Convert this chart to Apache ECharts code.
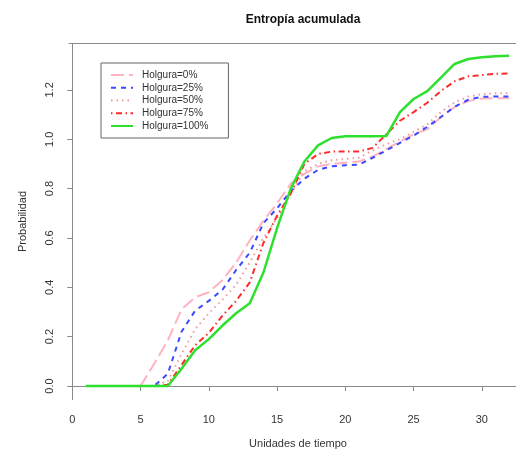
<!DOCTYPE html>
<html>
<head>
<meta charset="utf-8">
<script src="https://cdn.jsdelivr.net/npm/echarts@6/dist/echarts.min.js"></script>
<style>
  html, body { margin: 0; padding: 0; background: #fff; }
  #chart { width: 516px; height: 451px; }
</style>
</head>
<body>
<div id="chart"></div>
<script>
// unidades de tiempo
const tiempo = [1, 2, 3, 4, 5, 6, 7, 8, 9, 10, 11, 12, 13, 14, 15, 16,
  17, 18, 19, 20, 21, 22, 23, 24, 25, 26, 27, 28, 29, 30, 31, 32];

// entropía acumulada por holgura
const holgura0 = [0, 0, 0, 0, 0, 0.09, 0.185, 0.31, 0.36, 0.38, 0.43, 0.5, 0.59, 0.67, 0.74, 0.82,
  0.86, 0.89, 0.9, 0.905, 0.91, 0.93, 0.96, 0.99, 1.02, 1.04, 1.09, 1.13, 1.155, 1.165, 1.166, 1.166];
const holgura25 = [0, 0, 0, 0, 0, 0, 0.05, 0.22, 0.305, 0.345, 0.39, 0.47, 0.54, 0.66, 0.72, 0.79,
  0.84, 0.876, 0.89, 0.895, 0.897, 0.925, 0.955, 0.985, 1.015, 1.05, 1.09, 1.132, 1.16, 1.172, 1.173, 1.173];
const holgura50 = [0, 0, 0, 0, 0, 0, 0.02, 0.13, 0.23, 0.295, 0.35, 0.41, 0.5, 0.6, 0.68, 0.78,
  0.87, 0.9, 0.915, 0.92, 0.925, 0.955, 0.98, 1.0, 1.03, 1.06, 1.11, 1.15, 1.173, 1.183, 1.186, 1.187];
const holgura75 = [0, 0, 0, 0, 0, 0, 0.005, 0.085, 0.165, 0.215, 0.285, 0.345, 0.42, 0.58, 0.69, 0.78,
  0.9, 0.94, 0.95, 0.95, 0.95, 0.965, 1.02, 1.075, 1.11, 1.148, 1.195, 1.235, 1.255, 1.26, 1.265, 1.267];
const holgura100 = [0, 0, 0, 0, 0, 0, 0, 0.07, 0.145, 0.19, 0.245, 0.295, 0.335, 0.46, 0.64, 0.8,
  0.91, 0.975, 1.005, 1.012, 1.012, 1.012, 1.013, 1.11, 1.163, 1.195, 1.25, 1.305, 1.325, 1.332, 1.336, 1.338];

const nombres = ['Holgura=0%', 'Holgura=25%', 'Holgura=50%', 'Holgura=75%', 'Holgura=100%'];
const xTicks = [0, 5, 10, 15, 20, 25, 30];
const yTicks = [0, 0.2, 0.4, 0.6, 0.8, 1.0, 1.2];

const pares = (ys) => tiempo.map((t, i) => [t, ys[i]]);

const chart = echarts.init(document.getElementById('chart'));
const font = 'Liberation Sans, Arial, sans-serif';
const gris = '#8a8a8a';

// estilos de línea (tipo R: longdash, dashed, dotted, dotdash, solid)
const estilos = [
  { color: '#ffb3c0', width: 2, type: [13, 5] },
  { color: '#3a48ff', width: 2, type: [5, 5] },
  { color: '#f29a9a', width: 2, type: [1.5, 4] },
  { color: '#ff2a2a', width: 2, type: [1.5, 3.5, 6, 3.5] },
  { color: '#2ee02e', width: 2.5, type: 'solid' }
];
const datos = [holgura0, holgura25, holgura50, holgura75, holgura100];

const option = {
  animation: false,
  backgroundColor: '#fff',
  title: {
    text: 'Entropía acumulada',
    left: 298,
    top: 9,
    textAlign: 'center',
    textStyle: { fontFamily: font, fontSize: 12, fontWeight: 'bold', color: '#111' }
  },
  legend: {
    orient: 'vertical',
    left: 101,
    top: 63,
    padding: [7, 20, 7, 9],
    borderColor: '#666',
    borderWidth: 1,
    itemWidth: 22,
    itemHeight: 10,
    itemGap: 2.75,
    itemStyle: { opacity: 0 },
    textStyle: { fontFamily: font, fontSize: 10, color: '#333', padding: [0, 0, 0, 4] },
    data: nombres
  },
  grid: { left: 69, right: 0, top: 43.5, bottom: 51.5, show: false, outerBoundsMode: 'none' },
  xAxis: [
    {
      type: 'value',
      min: -0.24,
      max: 32.5,
      name: 'Unidades de tiempo',
      nameLocation: 'middle',
      nameGap: 39,
      nameTextStyle: { fontFamily: font, fontSize: 11, color: '#333', padding: [0, 0, 0, 11] },
      axisLine: { show: true, lineStyle: { color: gris, width: 1 } },
      axisTick: { show: true, customValues: xTicks, length: 5, lineStyle: { color: gris } },
      axisLabel: { customValues: xTicks, margin: 15, fontFamily: font, fontSize: 11, color: '#333' },
      splitLine: { show: false }
    },
    {
      type: 'value',
      position: 'top',
      min: -0.24,
      max: 32.5,
      axisLine: { show: true, lineStyle: { color: gris, width: 1 } },
      axisTick: { show: false },
      axisLabel: { show: false },
      splitLine: { show: false }
    }
  ],
  yAxis: {
    type: 'value',
    min: -0.0547,
    max: 1.388,
    name: 'Probabilidad',
    nameLocation: 'middle',
    nameGap: 41,
    nameTextStyle: { fontFamily: font, fontSize: 11, color: '#333' },
    axisLine: { show: true, lineStyle: { color: gris, width: 1 } },
    axisTick: { show: true, customValues: yTicks, length: 5, lineStyle: { color: gris } },
    axisLabel: {
      customValues: yTicks,
      rotate: 90,
      margin: 14,
      fontFamily: font,
      fontSize: 11,
      color: '#333',
      formatter: (v) => v.toFixed(1)
    },
    splitLine: { show: false }
  },
  series: datos.map((ys, i) => ({
    name: nombres[i],
    type: 'line',
    xAxisIndex: 0,
    symbol: 'none',
    data: pares(ys),
    lineStyle: estilos[i],
    itemStyle: { color: estilos[i].color }
  }))
};

chart.setOption(option);
</script>
</body>
</html>
